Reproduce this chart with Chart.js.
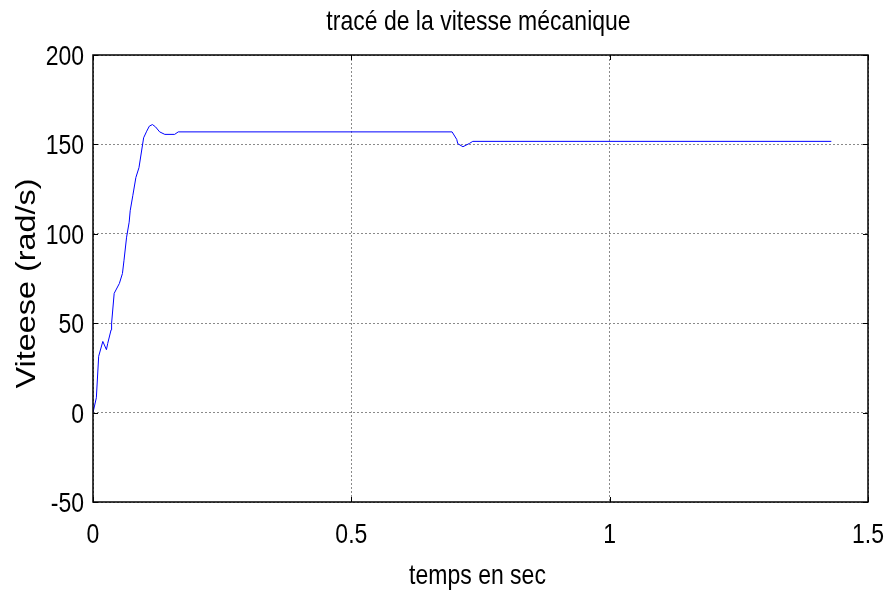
<!DOCTYPE html>
<html>
<head>
<meta charset="utf-8">
<script src="https://cdn.jsdelivr.net/npm/chart.js@4"></script>
<style>
  html, body { margin: 0; padding: 0; background: #fff; }
  #wrap { width: 889px; height: 594px; }
</style>
</head>
<body>
<div id="wrap"><canvas id="speed_chart" width="889" height="594"></canvas></div>
<script>
// temps (s) et vitesse (rad/s)
const timeValues = [0, 0.0065, 0.011, 0.019, 0.026, 0.0285, 0.035, 0.036, 0.041, 0.051, 0.057, 0.060,
    0.065, 0.070, 0.072, 0.077, 0.083, 0.089, 0.094, 0.098, 0.104, 0.109, 0.115, 0.121, 0.129,
    0.139, 0.158, 0.165, 0.695, 0.704, 0.706, 0.716, 0.729, 0.735, 1.429]
const speedValues = [0, 8.3, 31.5, 39.8, 35.2, 38.7, 46.3, 50, 66.7, 72.2, 77.8, 85.2,
    98.1, 106.5, 112.9, 121.3, 131.5, 137, 146.3, 153.7, 157.4, 160.2, 161.1, 159.8, 157,
    155.6, 155.6, 157, 157, 152.8, 150.4, 148.7, 150.6, 151.7, 151.7]
const xTicks = [0, 0.5, 1, 1.5]
const xTickLabels = ['0', '0.5', '1', '1.5']
const yTicks = [-50, 0, 50, 100, 150, 200]
const yTickLabels = ['-50', '0', '50', '100', '150', '200']

const titleText = 'tracé de la vitesse mécanique'
const xTitleText = 'temps en sec'
const yTitleText = 'Viteese (rad/s)'

const fontName = "'Liberation Sans', Arial, sans-serif"
const stretch = 1.2   // the original picture's text is taller than it is wide

let points = []
for (let i = 0; i < timeValues.length; i++) {
    points.push({x: timeValues[i], y: speedValues[i]})
}

function tallText(ctx, text, x, y, align, rotate) {
    ctx.save()
    ctx.translate(x, y)
    if (rotate) ctx.rotate(-Math.PI / 2)
    if (rotate) ctx.scale(stretch, 1)
    else ctx.scale(1, stretch)
    ctx.textAlign = align
    ctx.textBaseline = 'alphabetic'
    ctx.fillText(text, 0, 0)
    ctx.restore()
}

// box round the plot, small inward ticks and the texts, like matlab
const boxPlugin = {
    id: 'box',
    afterDraw(chart) {
        const ctx = chart.ctx
        const a = chart.chartArea
        const xs = chart.scales.x
        const ys = chart.scales.y
        ctx.save()
        ctx.strokeStyle = '#000'
        ctx.lineWidth = 1
        ctx.beginPath()
        xTicks.forEach(v => {
            let px = Math.round(xs.getPixelForValue(v)) + 0.5
            ctx.moveTo(px, a.bottom); ctx.lineTo(px, a.bottom - 5)
            ctx.moveTo(px, a.top); ctx.lineTo(px, a.top + 5)
        })
        yTicks.forEach(v => {
            let py = Math.round(ys.getPixelForValue(v)) + 0.5
            ctx.moveTo(a.left, py); ctx.lineTo(a.left + 5, py)
            ctx.moveTo(a.right, py); ctx.lineTo(a.right - 5, py)
        })
        ctx.stroke()
        ctx.lineWidth = 1.5
        ctx.strokeRect(a.left, a.top, a.right - a.left, a.bottom - a.top)

        ctx.fillStyle = '#000'
        ctx.font = '23px ' + fontName
        xTicks.forEach((v, i) => {
            tallText(ctx, xTickLabels[i], xs.getPixelForValue(v), a.bottom + 41, 'center', false)
        })
        yTicks.forEach((v, i) => {
            tallText(ctx, yTickLabels[i], a.left - 9, ys.getPixelForValue(v) + 10, 'right', false)
        })
        let midX = (a.left + a.right) / 2
        let midY = (a.top + a.bottom) / 2
        tallText(ctx, titleText, midX - 2, 30, 'center', false)
        tallText(ctx, xTitleText, midX - 3, 584, 'center', false)
        ctx.font = '27px ' + fontName
        tallText(ctx, yTitleText, 35, midY + 5, 'center', true)
        ctx.restore()
    }
}

const config = {
    type: 'line',
    data: {
        datasets: [{
            data: points,
            borderColor: 'rgb(0, 0, 255)',
            borderWidth: 1,
            pointRadius: 0,
            tension: 0,
            fill: false
        }]
    },
    options: {
        responsive: false,
        animation: false,
        layout: { padding: { left: 93, right: 21, top: 55, bottom: 92 } },
        plugins: {
            legend: { display: false },
            tooltip: { enabled: false },
            title: { display: false }
        },
        scales: {
            x: {
                type: 'linear',
                min: 0, max: 1.5,
                afterBuildTicks: s => { s.ticks = xTicks.map(v => ({value: v})) },
                afterFit: s => { s.height = 0 },
                ticks: { display: false },
                grid: { color: '#8a8a8a', drawTicks: false, lineWidth: 1 },
                border: { display: false, dash: [2, 2] }
            },
            y: {
                min: -50, max: 200,
                afterBuildTicks: s => { s.ticks = yTicks.map(v => ({value: v})) },
                afterFit: s => { s.width = 0 },
                ticks: { display: false },
                grid: { color: '#8a8a8a', drawTicks: false, lineWidth: 1 },
                border: { display: false, dash: [2, 2] }
            }
        }
    },
    plugins: [boxPlugin]
}

const myChart = new Chart(document.getElementById('speed_chart'), config)
</script>
</body>
</html>
